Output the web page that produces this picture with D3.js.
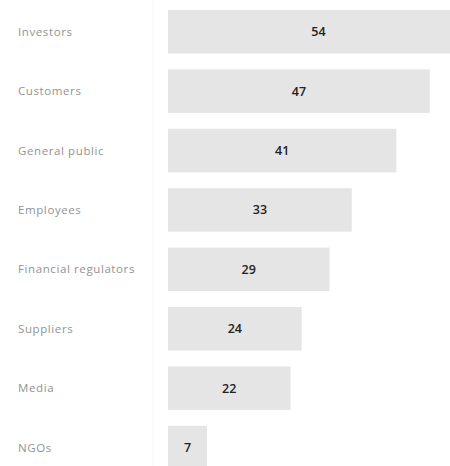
<!DOCTYPE html>
<meta charset="utf-8">
<style>
body { margin: 0; background: #fff; }
.label { font-family: "Open Sans", sans-serif; font-size: 11.5px; letter-spacing: 0.6px; fill: #939393; }
.value { font-family: "Open Sans", sans-serif; font-size: 12.5px; font-weight: 600; fill: #222; }
.bar { fill: #e5e5e5; }
</style>
<body>
<script src="https://d3js.org/d3.v7.min.js"></script>
<script>

var width = 450;
var height = 466;

var categories = ['Investors', 'Customers', 'General public', 'Employees',
  'Financial regulators', 'Suppliers', 'Media', 'NGOs'];
var values = [54, 47, 41, 33, 29, 24, 22, 7];

var data = categories.map((c, i) => ({ name: c, value: values[i] }));

var svg = d3.select('body')
  .append('svg')
  .attr('width', width)
  .attr('height', height);

var x = d3.scaleLinear()
  .domain([0, 60])
  .range([168, 168 + 60 * 5.57]);

var y = d3.scaleBand()
  .domain(categories)
  .range([10, 469.3])
  .paddingInner(0.268)
  .paddingOuter(0);

// faint separator between labels and bars
svg.append('line')
  .attr('x1', 153).attr('x2', 153)
  .attr('y1', 0).attr('y2', height)
  .attr('stroke', '#f5f5f5');

svg.selectAll('.bar')
  .data(data)
  .enter()
  .append('rect')
  .attr('class', 'bar')
  .attr('x', x(0))
  .attr('y', d => y(d.name))
  .attr('width', d => x(d.value) - x(0))
  .attr('height', y.bandwidth());

svg.selectAll('.label')
  .data(data)
  .enter()
  .append('text')
  .attr('class', 'label')
  .attr('x', 18)
  .attr('y', d => y(d.name) + y.bandwidth() / 2)
  .attr('dy', '0.35em')
  .text(d => d.name);

svg.selectAll('.value')
  .data(data)
  .enter()
  .append('text')
  .attr('class', 'value')
  .attr('x', d => (x(0) + x(d.value)) / 2)
  .attr('y', d => y(d.name) + y.bandwidth() / 2)
  .attr('dy', '0.35em')
  .attr('text-anchor', 'middle')
  .text(d => d.value);

</script>
</body>
</html>
